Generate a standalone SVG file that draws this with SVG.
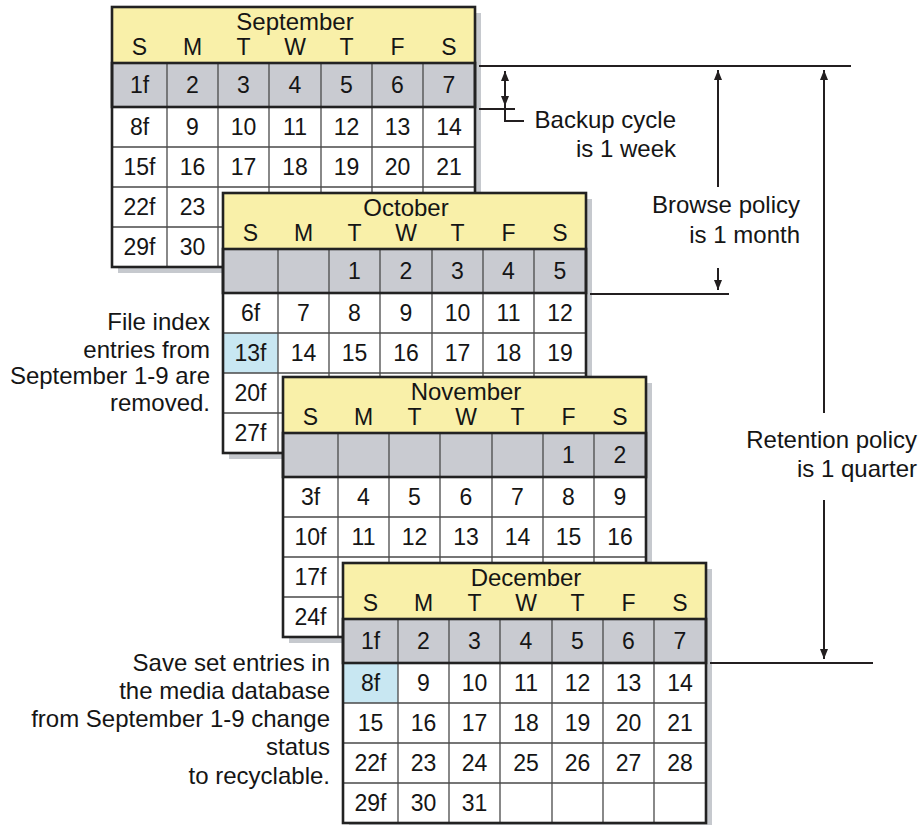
<svg xmlns="http://www.w3.org/2000/svg" width="923" height="825" viewBox="0 0 923 825">
<style>
text{font-family:"Liberation Sans",Arial,sans-serif;fill:#151515}
.lbl{font-size:24px;text-anchor:end}
.mon{font-size:24px;text-anchor:middle}
.day{font-size:23px;text-anchor:middle}
.num{font-size:23px;text-anchor:middle}
.shadow{fill:#c6c9ce}
.bg{fill:#fff}
.hdr{fill:#f9f0a9}
.gray{fill:#c9cbd1}
.blue{fill:#c8e7f2}
.grid{stroke:#4a4a4a;stroke-width:1.3;fill:none}
.thick{stroke:#222;stroke-width:2.6;fill:none}
.conn{stroke:#231f20;stroke-width:2;fill:none}
</style>
<defs>
<marker id="ah" viewBox="0 0 10 8" refX="10" refY="4" markerWidth="10" markerHeight="8" markerUnits="userSpaceOnUse" orient="auto-start-reverse"><path d="M0,0 L10,4 L0,8 z" fill="#231f20"/></marker>
<g id="cal">
<rect class="shadow" x="6" y="6" width="363" height="260"/>
<rect class="bg" x="0" y="0" width="363" height="260"/>
<rect class="hdr" x="0" y="0" width="363" height="56"/>
<rect class="gray" x="0" y="56" width="363" height="44"/>
</g>
<g id="grid">
<path class="grid" d="M55,56V260M106,56V260M157,56V260M209,56V260M260,56V260M311,56V260M0,140H363M0,180H363M0,220H363"/>
<rect class="thick" x="0" y="56" width="363" height="44"/>
<rect class="thick" x="0" y="0" width="363" height="260"/>
</g>
<g id="days">
<text class="day" x="27.5" y="48">S</text><text class="day" x="80.5" y="48">M</text><text class="day" x="131.5" y="48">T</text><text class="day" x="183" y="48">W</text><text class="day" x="234.5" y="48">T</text><text class="day" x="285.5" y="48">F</text><text class="day" x="337" y="48">S</text>
</g>
</defs>

<g id="september" transform="translate(112,7)">
<use href="#cal"/>
<use href="#grid"/>
<text class="mon" x="183" y="23">September</text>
<use href="#days"/>
<text class="num" x="27.5" y="86">1f</text><text class="num" x="80.5" y="86">2</text><text class="num" x="131.5" y="86">3</text><text class="num" x="183" y="86">4</text><text class="num" x="234.5" y="86">5</text><text class="num" x="285.5" y="86">6</text><text class="num" x="337" y="86">7</text>
<text class="num" x="27.5" y="128">8f</text><text class="num" x="80.5" y="128">9</text><text class="num" x="131.5" y="128">10</text><text class="num" x="183" y="128">11</text><text class="num" x="234.5" y="128">12</text><text class="num" x="285.5" y="128">13</text><text class="num" x="337" y="128">14</text>
<text class="num" x="27.5" y="168">15f</text><text class="num" x="80.5" y="168">16</text><text class="num" x="131.5" y="168">17</text><text class="num" x="183" y="168">18</text><text class="num" x="234.5" y="168">19</text><text class="num" x="285.5" y="168">20</text><text class="num" x="337" y="168">21</text>
<text class="num" x="27.5" y="208">22f</text><text class="num" x="80.5" y="208">23</text>
<text class="num" x="27.5" y="248">29f</text><text class="num" x="80.5" y="248">30</text>
</g>

<g id="october" transform="translate(223,193)">
<use href="#cal"/>
<rect class="blue" x="0" y="140" width="55" height="40"/>
<use href="#grid"/>
<text class="mon" x="183" y="23">October</text>
<use href="#days"/>
<text class="num" x="131.5" y="86">1</text><text class="num" x="183" y="86">2</text><text class="num" x="234.5" y="86">3</text><text class="num" x="285.5" y="86">4</text><text class="num" x="337" y="86">5</text>
<text class="num" x="27.5" y="128">6f</text><text class="num" x="80.5" y="128">7</text><text class="num" x="131.5" y="128">8</text><text class="num" x="183" y="128">9</text><text class="num" x="234.5" y="128">10</text><text class="num" x="285.5" y="128">11</text><text class="num" x="337" y="128">12</text>
<text class="num" x="27.5" y="168">13f</text><text class="num" x="80.5" y="168">14</text><text class="num" x="131.5" y="168">15</text><text class="num" x="183" y="168">16</text><text class="num" x="234.5" y="168">17</text><text class="num" x="285.5" y="168">18</text><text class="num" x="337" y="168">19</text>
<text class="num" x="27.5" y="208">20f</text>
<text class="num" x="27.5" y="248">27f</text>
</g>

<g id="november" transform="translate(283,377)">
<use href="#cal"/>
<use href="#grid"/>
<text class="mon" x="183" y="23">November</text>
<use href="#days"/>
<text class="num" x="285.5" y="86">1</text><text class="num" x="337" y="86">2</text>
<text class="num" x="27.5" y="128">3f</text><text class="num" x="80.5" y="128">4</text><text class="num" x="131.5" y="128">5</text><text class="num" x="183" y="128">6</text><text class="num" x="234.5" y="128">7</text><text class="num" x="285.5" y="128">8</text><text class="num" x="337" y="128">9</text>
<text class="num" x="27.5" y="168">10f</text><text class="num" x="80.5" y="168">11</text><text class="num" x="131.5" y="168">12</text><text class="num" x="183" y="168">13</text><text class="num" x="234.5" y="168">14</text><text class="num" x="285.5" y="168">15</text><text class="num" x="337" y="168">16</text>
<text class="num" x="27.5" y="208">17f</text>
<text class="num" x="27.5" y="248">24f</text>
</g>

<g id="december" transform="translate(343,563)">
<use href="#cal"/>
<rect class="blue" x="0" y="100" width="55" height="40"/>
<use href="#grid"/>
<text class="mon" x="183" y="23">December</text>
<use href="#days"/>
<text class="num" x="27.5" y="86">1f</text><text class="num" x="80.5" y="86">2</text><text class="num" x="131.5" y="86">3</text><text class="num" x="183" y="86">4</text><text class="num" x="234.5" y="86">5</text><text class="num" x="285.5" y="86">6</text><text class="num" x="337" y="86">7</text>
<text class="num" x="27.5" y="128">8f</text><text class="num" x="80.5" y="128">9</text><text class="num" x="131.5" y="128">10</text><text class="num" x="183" y="128">11</text><text class="num" x="234.5" y="128">12</text><text class="num" x="285.5" y="128">13</text><text class="num" x="337" y="128">14</text>
<text class="num" x="27.5" y="168">15</text><text class="num" x="80.5" y="168">16</text><text class="num" x="131.5" y="168">17</text><text class="num" x="183" y="168">18</text><text class="num" x="234.5" y="168">19</text><text class="num" x="285.5" y="168">20</text><text class="num" x="337" y="168">21</text>
<text class="num" x="27.5" y="208">22f</text><text class="num" x="80.5" y="208">23</text><text class="num" x="131.5" y="208">24</text><text class="num" x="183" y="208">25</text><text class="num" x="234.5" y="208">26</text><text class="num" x="285.5" y="208">27</text><text class="num" x="337" y="208">28</text>
<text class="num" x="27.5" y="248">29f</text><text class="num" x="80.5" y="248">30</text><text class="num" x="131.5" y="248">31</text>
</g>

<g id="connectors">
<line class="conn" x1="479" y1="66" x2="851" y2="66"/>
<line class="conn" x1="479" y1="109" x2="515" y2="109"/>
<line class="conn" x1="505" y1="71" x2="505" y2="106" marker-start="url(#ah)" marker-end="url(#ah)"/>
<path class="conn" d="M505,100V121H524"/>
<line class="conn" x1="718" y1="187" x2="718" y2="70" marker-end="url(#ah)"/>
<line class="conn" x1="718" y1="268" x2="718" y2="290" marker-end="url(#ah)"/>
<line class="conn" x1="590" y1="294" x2="729" y2="294"/>
<line class="conn" x1="824" y1="413" x2="824" y2="70" marker-end="url(#ah)"/>
<line class="conn" x1="824" y1="500" x2="824" y2="659" marker-end="url(#ah)"/>
<line class="conn" x1="710" y1="663" x2="873" y2="663"/>
</g>

<g id="labels">
<text class="lbl" x="676" y="128">Backup cycle</text>
<text class="lbl" x="676" y="157">is 1 week</text>
<text class="lbl" x="800" y="213">Browse policy</text>
<text class="lbl" x="800" y="243">is 1 month</text>
<text class="lbl" x="917" y="448">Retention policy</text>
<text class="lbl" x="917" y="477">is 1 quarter</text>
<text class="lbl" x="210" y="330">File index</text>
<text class="lbl" x="210" y="358">entries from</text>
<text class="lbl" x="210" y="384">September 1-9 are</text>
<text class="lbl" x="210" y="411">removed.</text>
<text class="lbl" x="330" y="671">Save set entries in</text>
<text class="lbl" x="330" y="699">the media database</text>
<text class="lbl" x="330" y="727">from September 1-9 change</text>
<text class="lbl" x="330" y="755">status</text>
<text class="lbl" x="330" y="784">to recyclable.</text>
</g>
</svg>
